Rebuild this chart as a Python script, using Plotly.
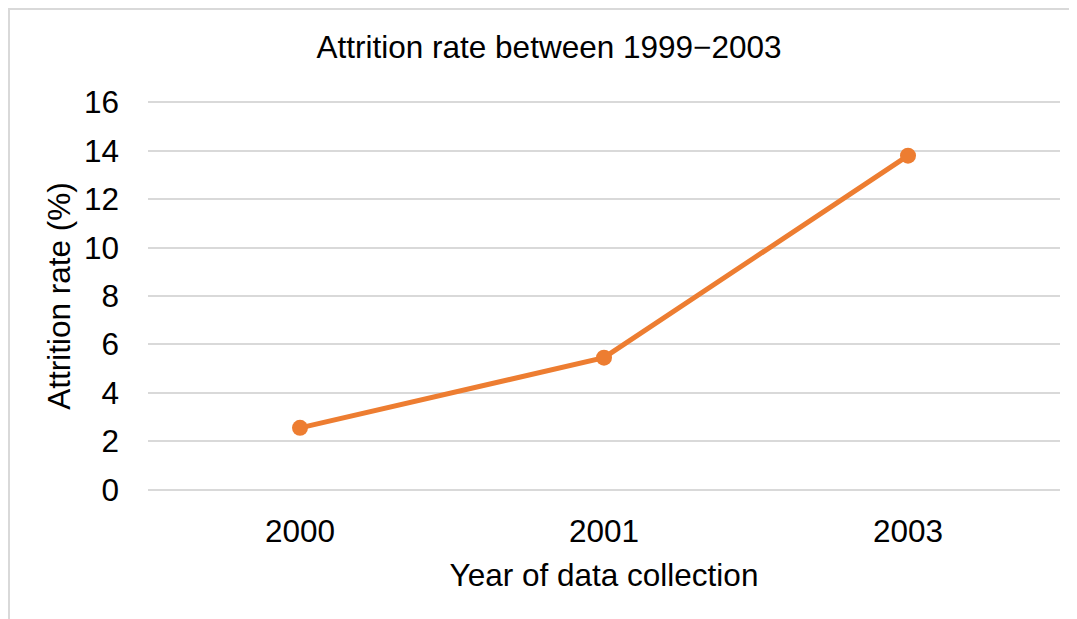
import plotly.graph_objects as go

years = ["2000", "2001", "2003"]
attrition = [2.55, 5.45, 13.8]
y_ticks = [0, 2, 4, 6, 8, 10, 12, 14, 16]

OFF = 8  # page body margin
W, H = 1077 - OFF, 619 - OFF
L, R, T, B = 148 - OFF, 17, 101 - OFF, 128
pw, ph = W - L - R, H - T - B

font = "Liberation Sans, Arial, sans-serif"
FS = 31.5

fig = go.Figure()
fig.add_trace(go.Scatter(
    x=years, y=attrition, mode="lines+markers",
    line=dict(color="#ED7D31", width=5),
    marker=dict(color="#ED7D31", size=16),
    showlegend=False, cliponaxis=False,
))

fig.update_layout(
    width=W, height=H,
    margin=dict(l=L, r=R, t=T, b=B),
    paper_bgcolor="white", plot_bgcolor="white",
    font=dict(family=font, color="black", size=FS),
    title=dict(text="Attrition rate between 1999\u22122003",
               x=(549 - OFF) / W, xanchor="center", xref="container",
               y=1 - (47 - OFF) / H, yanchor="middle", yref="container",
               font=dict(size=FS, family=font, color="black")),
    xaxis=dict(
        type="category", range=[-0.5, 2.5], showgrid=False, zeroline=False, showline=False,
        tickfont=dict(size=FS), ticks="", ticklabelstandoff=18,
        title=dict(text="Year of data collection", font=dict(size=FS), standoff=16),
    ),
    yaxis=dict(
        range=[-0.06, 16.06], tickvals=y_ticks, showgrid=True, gridcolor="#D9D9D9", gridwidth=1.5,
        zeroline=True, zerolinecolor="#D9D9D9", zerolinewidth=1.5, showline=False,
        ticks="", ticklabelstandoff=28,
        tickfont=dict(size=FS),
        title=dict(text="Attrition rate (%)", font=dict(size=FS), standoff=3),
    ),
)

# outer chart border (light gray frame)
fig.add_shape(type="rect", xref="paper", yref="paper",
              x0=(1 - L) / pw, x1=(W + 5 - L) / pw, y0=-(B + 5) / ph, y1=(H - B - 1) / ph,
              line=dict(color="#D9D9D9", width=2), fillcolor="rgba(0,0,0,0)", layer="below")

fig.write_html("out.html")
